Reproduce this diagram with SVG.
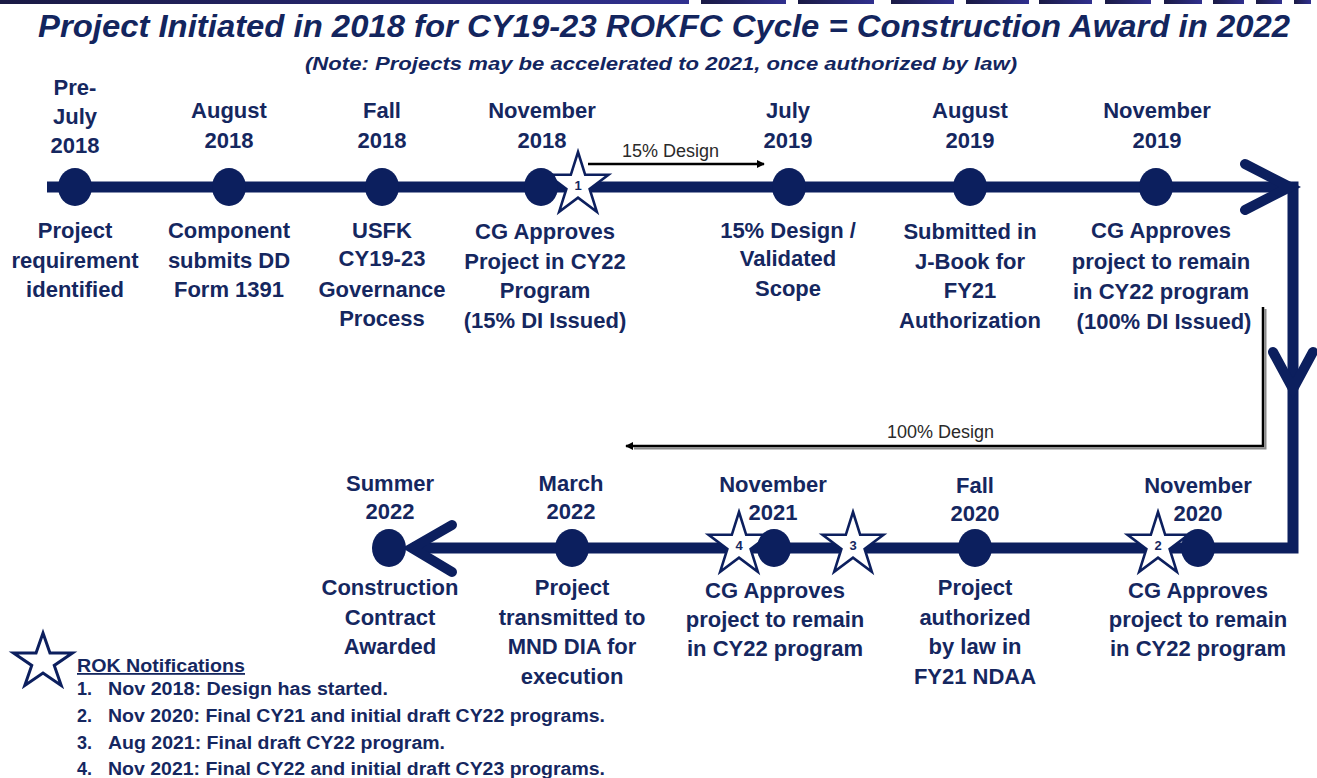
<svg xmlns="http://www.w3.org/2000/svg" xmlns:xlink="http://www.w3.org/1999/xlink" width="1317" height="778" viewBox="0 0 1317 778">
  <defs>
    <style>
      .t { font-family: "Liberation Sans", Arial, sans-serif; font-weight: bold; fill: #15275f; text-anchor: middle; }
      .d { font-size: 22px; }
      .title { font-family: "Liberation Sans", Arial, sans-serif; font-weight: bold; font-style: italic; fill: #13255e; }
      .lg { font-family: "Liberation Sans", Arial, sans-serif; font-weight: bold; fill: #15275f; font-size: 18px; }
      .dl { font-family: "Liberation Sans", Arial, sans-serif; font-size: 18px; fill: #2a2a2a; }
      .node { fill: #0c1f5e; }
      .line { fill: none; stroke: #0c1f5e; stroke-width: 11; stroke-linejoin: miter; }
      .chev { fill: none; stroke: #0c1f5e; stroke-width: 10; stroke-linecap: round; stroke-linejoin: miter; }
      .star { fill: #ffffff; stroke: #0c1f5e; stroke-width: 2.6; stroke-linejoin: miter; }
      .num { font-family: "Liberation Sans", Arial, sans-serif; font-weight: bold; font-size: 13px; fill: #15275f; text-anchor: middle; }
      .darr { fill: none; stroke: #000000; stroke-width: 2.5; }
      .dsh { fill: none; stroke: #8a8a8a; stroke-width: 2; }
    </style>
    <linearGradient id="bar" x1="0" y1="0" x2="1" y2="0">
      <stop offset="0" stop-color="#1a1a44"/>
      <stop offset="1" stop-color="#30308f"/>
    </linearGradient>
    <!-- five-point star, centred on the origin -->
    <path id="star" d="M0,-33 L7.18,-10.2 L30.43,-10.2 L11.62,3.89 L18.82,26.7 L0,12.61 L-18.82,26.7 L-11.62,3.89 L-30.43,-10.2 L-7.18,-10.2 Z"/>
    <marker id="ah" viewBox="0 0 10 10" refX="9" refY="5" markerWidth="8" markerHeight="8" markerUnits="userSpaceOnUse" orient="auto">
      <path d="M0,0 L10,5 L0,10 Z" fill="#000000"/>
    </marker>
  </defs>

  <!-- header band -->
  <g id="header-band">
    <rect x="0" y="0" width="689" height="4" fill="url(#bar)"/>
    <rect x="701" y="0" width="85" height="4" fill="url(#bar)"/>
    <rect x="798" y="0" width="76" height="4" fill="url(#bar)"/>
    <rect x="891" y="0" width="63" height="4" fill="url(#bar)"/>
    <rect x="966" y="0" width="63" height="4" fill="url(#bar)"/>
    <rect x="1039" y="0" width="53" height="4" fill="url(#bar)"/>
    <rect x="1105" y="0" width="46" height="4" fill="url(#bar)"/>
    <rect x="1164" y="0" width="38" height="4" fill="url(#bar)"/>
    <rect x="1213" y="0" width="31" height="4" fill="url(#bar)"/>
    <rect x="1256" y="0" width="26" height="4" fill="url(#bar)"/>
    <rect x="1294" y="0" width="17" height="4" fill="url(#bar)"/>
  </g>

  <!-- titles -->
  <text class="title" x="38" y="37" font-size="32" textLength="1252" lengthAdjust="spacingAndGlyphs">Project Initiated in 2018 for CY19-23 ROKFC Cycle = Construction Award in 2022</text>
  <text class="title" x="305" y="70" font-size="18" textLength="712" lengthAdjust="spacingAndGlyphs">(Note: Projects may be accelerated to 2021, once authorized by law)</text>

  <!-- timeline and design-phase arrows -->
  <g id="connectors">
    <path class="line" d="M47,187 H1293 V548 H412"/>
    <path class="chev" d="M1245,164 L1290,187 L1245,210"/>
    <path class="chev" d="M1273,352 L1293,389 L1313,352"/>
    <path class="chev" d="M452,525 L412,548 L452,572"/>
    <!-- 15% design -->
    <line class="darr" x1="588" y1="164" x2="764" y2="164" marker-end="url(#ah)"/>
    <text class="dl" x="622" y="157">15% Design</text>
    <!-- 100% design -->
    <path class="dsh" d="M1265.5,309 V448.5 H634"/>
    <path class="darr" d="M1263,307 V446 H626" marker-end="url(#ah)"/>
    <text class="dl" x="887" y="438">100% Design</text>
  </g>

  <!-- ROK notification stars -->
  <g id="star-1">
    <use xlink:href="#star" class="star" transform="translate(578,185)"/>
    <text class="num" x="578" y="190">1</text>
  </g>
  <g id="star-2">
    <use xlink:href="#star" class="star" transform="translate(1158,545)"/>
    <text class="num" x="1158" y="550">2</text>
  </g>
  <g id="star-3">
    <use xlink:href="#star" class="star" transform="translate(853,545)"/>
    <text class="num" x="853" y="550">3</text>
  </g>
  <g id="star-4">
    <use xlink:href="#star" class="star" transform="translate(739,545)"/>
    <text class="num" x="739" y="550">4</text>
  </g>

  <!-- milestones, top row -->
  <g id="m-prejuly-2018">
    <ellipse class="node" cx="75" cy="187" rx="17" ry="19"/>
    <text class="t d" x="75" y="95">Pre-</text>
    <text class="t d" x="75" y="124">July</text>
    <text class="t d" x="75" y="153">2018</text>
    <text class="t d" x="75" y="238">Project</text>
    <text class="t d" x="75" y="268">requirement</text>
    <text class="t d" x="75" y="297">identified</text>
  </g>
  <g id="m-aug-2018">
    <ellipse class="node" cx="229" cy="187" rx="17" ry="19"/>
    <text class="t d" x="229" y="118">August</text>
    <text class="t d" x="229" y="148">2018</text>
    <text class="t d" x="229" y="238">Component</text>
    <text class="t d" x="229" y="268">submits DD</text>
    <text class="t d" x="229" y="297">Form 1391</text>
  </g>
  <g id="m-fall-2018">
    <ellipse class="node" cx="382" cy="187" rx="17" ry="19"/>
    <text class="t d" x="382" y="118">Fall</text>
    <text class="t d" x="382" y="148">2018</text>
    <text class="t d" x="382" y="238">USFK</text>
    <text class="t d" x="382" y="266">CY19-23</text>
    <text class="t d" x="382" y="297">Governance</text>
    <text class="t d" x="382" y="326">Process</text>
  </g>
  <g id="m-nov-2018">
    <ellipse class="node" cx="541" cy="187" rx="17" ry="19"/>
    <text class="t d" x="542" y="118">November</text>
    <text class="t d" x="542" y="148">2018</text>
    <text class="t d" x="545" y="239">CG Approves</text>
    <text class="t d" x="545" y="269">Project in CY22</text>
    <text class="t d" x="545" y="298">Program</text>
    <text class="t d" x="545" y="328">(15% DI Issued)</text>
  </g>
  <g id="m-jul-2019">
    <ellipse class="node" cx="789" cy="187" rx="17" ry="19"/>
    <text class="t d" x="788" y="118">July</text>
    <text class="t d" x="788" y="148">2019</text>
    <text class="t d" x="788" y="238">15% Design /</text>
    <text class="t d" x="788" y="266">Validated</text>
    <text class="t d" x="788" y="296">Scope</text>
  </g>
  <g id="m-aug-2019">
    <ellipse class="node" cx="970" cy="187" rx="17" ry="19"/>
    <text class="t d" x="970" y="118">August</text>
    <text class="t d" x="970" y="148">2019</text>
    <text class="t d" x="970" y="239">Submitted in</text>
    <text class="t d" x="970" y="269">J-Book for</text>
    <text class="t d" x="970" y="298">FY21</text>
    <text class="t d" x="970" y="328">Authorization</text>
  </g>
  <g id="m-nov-2019">
    <ellipse class="node" cx="1156" cy="187" rx="17" ry="19"/>
    <text class="t d" x="1157" y="118">November</text>
    <text class="t d" x="1157" y="148">2019</text>
    <text class="t d" x="1161" y="238">CG Approves</text>
    <text class="t d" x="1161" y="269">project to remain</text>
    <text class="t d" x="1161" y="299">in CY22 program</text>
    <text class="t d" x="1164" y="329">(100% DI Issued)</text>
  </g>

  <!-- milestones, bottom row -->
  <g id="m-nov-2020">
    <ellipse class="node" cx="1198" cy="548" rx="17" ry="19"/>
    <text class="t d" x="1198" y="493">November</text>
    <text class="t d" x="1198" y="521">2020</text>
    <text class="t d" x="1198" y="598">CG Approves</text>
    <text class="t d" x="1198" y="627">project to remain</text>
    <text class="t d" x="1198" y="656">in CY22 program</text>
  </g>
  <g id="m-fall-2020">
    <ellipse class="node" cx="975" cy="548" rx="17" ry="19"/>
    <text class="t d" x="975" y="493">Fall</text>
    <text class="t d" x="975" y="521">2020</text>
    <text class="t d" x="975" y="595">Project</text>
    <text class="t d" x="975" y="625">authorized</text>
    <text class="t d" x="975" y="654">by law in</text>
    <text class="t d" x="975" y="684">FY21 NDAA</text>
  </g>
  <g id="m-nov-2021">
    <ellipse class="node" cx="774" cy="548" rx="17" ry="19"/>
    <text class="t d" x="773" y="492">November</text>
    <text class="t d" x="773" y="520">2021</text>
    <text class="t d" x="775" y="598">CG Approves</text>
    <text class="t d" x="775" y="627">project to remain</text>
    <text class="t d" x="775" y="656">in CY22 program</text>
  </g>
  <g id="m-mar-2022">
    <ellipse class="node" cx="572" cy="548" rx="17" ry="19"/>
    <text class="t d" x="571" y="491">March</text>
    <text class="t d" x="571" y="519">2022</text>
    <text class="t d" x="572" y="595">Project</text>
    <text class="t d" x="572" y="625">transmitted to</text>
    <text class="t d" x="572" y="654">MND DIA for</text>
    <text class="t d" x="572" y="684">execution</text>
  </g>
  <g id="m-summer-2022">
    <ellipse class="node" cx="389" cy="548" rx="17" ry="19"/>
    <text class="t d" x="390" y="491">Summer</text>
    <text class="t d" x="390" y="519">2022</text>
    <text class="t d" x="390" y="595">Construction</text>
    <text class="t d" x="390" y="625">Contract</text>
    <text class="t d" x="390" y="654">Awarded</text>
  </g>

  <!-- legend -->
  <g id="legend">
    <path d="M43,633 L49.96,653.04 L72.48,653.04 L54.25,665.42 L61.23,685.46 L43,673.08 L24.77,685.46 L31.75,665.42 L13.52,653.04 L36.04,653.04 Z" fill="#ffffff" stroke="#0c1f5e" stroke-width="3"/>
    <text class="lg" x="77" y="672" font-size="19" text-decoration="underline" textLength="168" lengthAdjust="spacingAndGlyphs">ROK Notifications</text>
    <text class="lg" x="77" y="695">1.</text>
    <text class="lg" x="108" y="695" textLength="280" lengthAdjust="spacingAndGlyphs">Nov 2018: Design has started.</text>
    <text class="lg" x="77" y="722">2.</text>
    <text class="lg" x="108" y="722" textLength="497" lengthAdjust="spacingAndGlyphs">Nov 2020: Final CY21 and initial draft CY22 programs.</text>
    <text class="lg" x="77" y="749">3.</text>
    <text class="lg" x="108" y="749" textLength="337" lengthAdjust="spacingAndGlyphs">Aug 2021: Final draft CY22 program.</text>
    <text class="lg" x="77" y="775">4.</text>
    <text class="lg" x="108" y="775" textLength="497" lengthAdjust="spacingAndGlyphs">Nov 2021: Final CY22 and initial draft CY23 programs.</text>
  </g>
</svg>
